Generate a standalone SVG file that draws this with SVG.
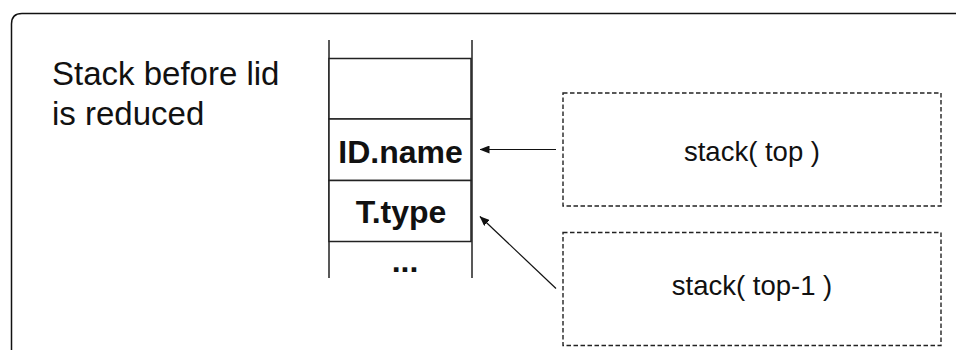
<svg xmlns="http://www.w3.org/2000/svg" width="956" height="350" viewBox="0 0 956 350">
  <style>
    .frame { fill: none; stroke: #111; stroke-width: 1.5; }
    .rail { stroke: #222; stroke-width: 1.5; }
    .cell { fill: #fff; stroke: #222; stroke-width: 1.5; }
    .dash { fill: #fff; stroke: #222; stroke-width: 1.4; stroke-dasharray: 4.5 2.5; }
    .wire { stroke: #111; stroke-width: 1.2; fill: none; marker-end: url(#head); }
    .cap { font-family: "Liberation Sans", Arial, sans-serif; font-size: 33px; fill: #111; }
    .val { font-family: "Liberation Sans", Arial, sans-serif; font-size: 32px; font-weight: bold; fill: #111; text-anchor: middle; }
    .ref { font-family: "Liberation Sans", Arial, sans-serif; font-size: 27.5px; fill: #111; text-anchor: middle; }
  </style>
  <defs>
    <marker id="head" viewBox="0 0 10 8" refX="9.5" refY="4" markerWidth="10" markerHeight="8" markerUnits="userSpaceOnUse" orient="auto">
      <path d="M0,0 L10,4 L0,8 z" fill="#111"/>
    </marker>
  </defs>

  <!-- outer panel, open to the right and bottom -->
  <path class="frame" d="M11.5,352 L11.5,24 Q11.5,13.5 22,13.5 L958,13.5"/>

  <g id="caption">
    <text class="cap" x="52" y="85">Stack before lid</text>
    <text class="cap" x="52" y="125">is reduced</text>
  </g>

  <g id="stack">
    <line class="rail" x1="329" y1="40" x2="329" y2="278"/>
    <line class="rail" x1="472" y1="40" x2="472" y2="278"/>
    <rect class="cell" x="329" y="58.5" width="142" height="60.5"/>
    <g id="cell-idname">
      <rect class="cell" x="329" y="119" width="142" height="61.5"/>
      <text class="val" x="400.5" y="162.5">ID.name</text>
    </g>
    <g id="cell-ttype">
      <rect class="cell" x="329" y="180.5" width="142" height="61"/>
      <text class="val" x="401" y="222.5">T.type</text>
    </g>
    <text class="val" x="405" y="272">...</text>
  </g>

  <g id="top">
    <rect class="dash" x="563" y="93" width="378" height="113"/>
    <text class="ref" x="752" y="161">stack( top )</text>
  </g>

  <g id="top-1">
    <rect class="dash" x="563" y="232.5" width="378" height="113"/>
    <text class="ref" x="752" y="295">stack( top-1 )</text>
  </g>

  <g id="connectors">
    <line class="wire" x1="556" y1="149.5" x2="480" y2="149.5"/>
    <line class="wire" x1="556" y1="288.5" x2="480" y2="216.5"/>
  </g>
</svg>
